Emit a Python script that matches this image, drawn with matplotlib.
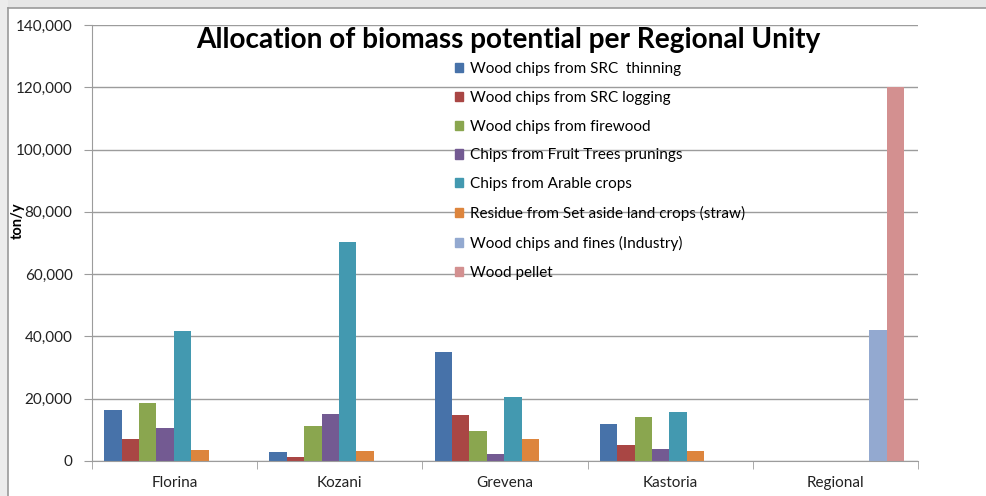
import matplotlib
matplotlib.use("Agg")
import matplotlib.pyplot as plt
import matplotlib.patches as mpatches
from matplotlib.ticker import FuncFormatter, FixedLocator
import numpy as np

plt.rcParams['font.family'] = ['Lato', 'DejaVu Sans']

# data (ton/y)
regions = ["Florina", "Kozani", "Grevena", "Kastoria", "Regional"]
series = [
    "Wood chips from SRC  thinning",
    "Wood chips from SRC logging",
    "Wood chips from firewood",
    "Chips from Fruit Trees prunings",
    "Chips from Arable crops",
    "Residue from Set aside land crops (straw)",
    "Wood chips and fines (Industry)",
    "Wood pellet",
]
src_thinning = [16400, 2800, 35000, 11800, 0]
src_logging = [7000, 1300, 14800, 5000, 0]
firewood = [18600, 11200, 9600, 14000, 0]
fruit_prunings = [10500, 15100, 2400, 3800, 0]
arable_crops = [41700, 70300, 20400, 15600, 0]
straw = [3500, 3200, 7000, 3200, 0]
industry = [0, 0, 0, 0, 42000]
pellet = [0, 0, 0, 0, 120000]
values = [src_thinning, src_logging, firewood, fruit_prunings,
          arable_crops, straw, industry, pellet]
colors = ["#4772A9", "#A94644", "#8AA64F", "#735A92", "#4399B0",
          "#DD853D", "#93A9D0", "#D39090"]

fig = plt.figure(figsize=(9.86, 4.96), dpi=100)
fig.patch.set_facecolor("white")

# grey window frame around the chart (as in the screenshot)
fig.add_artist(mpatches.Rectangle((0, 1 - 8 / 496), 1, 8 / 496, transform=fig.transFigure,
                                  facecolor="#e6e6e6", edgecolor="none"))
fig.add_artist(mpatches.Rectangle((0, 0), 8 / 986, 1, transform=fig.transFigure,
                                  facecolor="#ececec", edgecolor="none"))
fig.add_artist(plt.Line2D([8 / 986, 1], [1 - 8 / 496, 1 - 8 / 496], transform=fig.transFigure,
                          color="#9a9a9a", lw=1.2))
fig.add_artist(plt.Line2D([8 / 986, 8 / 986], [0, 1 - 8 / 496], transform=fig.transFigure,
                          color="#9a9a9a", lw=1.2))

ax = fig.add_axes([92 / 986, 1 - 461 / 496, (918 - 92) / 986, (461 - 25) / 496])

n = len(series)
w = 1 / (n + 1.5)
x = np.arange(len(regions))
for i in range(n):
    ax.bar(x - 0.5 + 0.7 * w + (i + 0.5) * w, values[i], width=w, color=colors[i],
           edgecolor="none", zorder=3, label=series[i])

ax.set_xlim(-0.5, len(regions) - 0.5)
ax.set_ylim(0, 140000)
ax.yaxis.set_major_locator(FixedLocator(np.arange(0, 140001, 20000)))
ax.yaxis.set_major_formatter(FuncFormatter(lambda v, p: f"{int(v):,}"))
ax.grid(axis="y", color="#9c9c9c", lw=1, zorder=0)
ax.set_xticks(x)
ax.set_xticklabels(regions)
ax.set_xticks(np.arange(-0.5, len(regions)), minor=True)
ax.tick_params(axis="x", which="major", length=0, pad=11, labelsize=11, colors="#222222")
ax.tick_params(axis="x", which="minor", length=6, color="#9c9c9c", direction="out")
ax.tick_params(axis="y", length=6, color="#9c9c9c", pad=8, labelsize=11, labelcolor="#222222")
for s in ["top", "right"]:
    ax.spines[s].set_visible(False)
for s in ["left", "bottom"]:
    ax.spines[s].set_color("#9c9c9c")
ax.spines["bottom"].set_zorder(4)

fig.text(18 / 986, 1 - 221 / 496, "ton/y", rotation=90, ha="center", va="center",
         fontsize=10.5, fontweight="bold")
fig.text(508 / 986, 1 - 40 / 496, "Allocation of biomass potential per Regional Unity",
         ha="center", va="center", fontsize=20.2, fontweight="bold", color="black")

handles = [mpatches.Patch(color=c) for c in colors]
fig.legend(handles, series, loc="upper left", bbox_to_anchor=(455 / 986, 1 - 62 / 496),
           frameon=False, fontsize=11, handlelength=0.55, handleheight=0.55,
           handletextpad=0.4, labelspacing=0.97, borderpad=0, borderaxespad=0)

fig.savefig("out.png", dpi=100)
